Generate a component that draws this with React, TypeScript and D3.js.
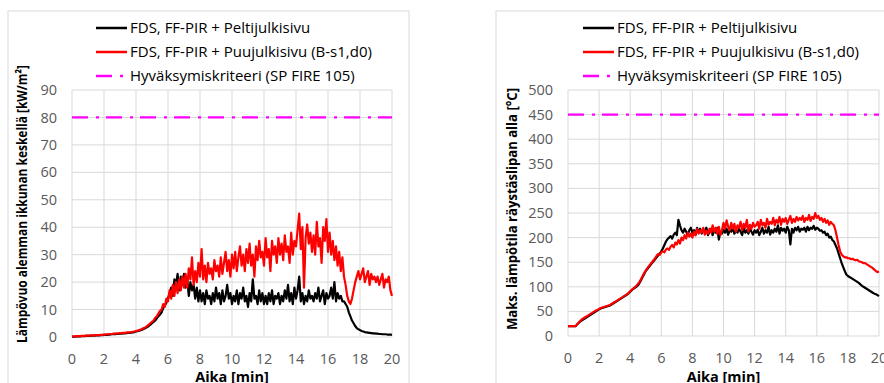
import React from "react";
import * as d3 from "d3";

// Time step of samples [min]
const STEP = 0.1;
const xTicks = [0, 2, 4, 6, 8, 10, 12, 14, 16, 18, 20];
const yTicksFlux = [0, 10, 20, 30, 40, 50, 60, 70, 80, 90];
const yTicksTemp = [0, 50, 100, 150, 200, 250, 300, 350, 400, 450, 500];
const seriesNames = [
  "FDS, FF-PIR + Peltijulkisivu",
  "FDS, FF-PIR + Puujulkisivu (B-s1,d0)",
  "Hyväksymiskriteeri (SP FIRE 105)",
];
const criterionFlux = 80;
const criterionTemp = 450;

// Heat flux [kW/m2], black (Peltijulkisivu)
const fluxBlack = [
  0.1, 0.1, 0.1, 0.2, 0.2, 0.2, 0.3, 0.3, 0.3, 0.4, 0.4,
  0.4, 0.5, 0.5, 0.5, 0.6, 0.6, 0.6, 0.7, 0.7, 0.8,
  0.8, 0.8, 0.9, 0.9, 1.0, 1.0, 1.0, 1.1, 1.1, 1.2,
  1.2, 1.3, 1.3, 1.4, 1.5, 1.5, 1.6, 1.7, 1.8, 2.0,
  2.1, 2.3, 2.5, 2.7, 3.0, 3.3, 3.6, 4.0, 4.5, 5.0,
  5.5, 6.0, 6.8, 7.5, 8.2, 9.0, 10.5, 11.5, 12.5, 14,
  16, 18, 15, 21, 19, 23, 17, 22, 19, 23,
  18, 21, 15, 20, 17, 19, 14, 18, 13, 17,
  13, 16, 12, 17, 14, 15, 12, 16, 13, 18,
  14, 16, 12, 17, 13, 15, 19, 14, 16, 12,
  15, 13, 17, 12, 16, 14, 18, 13, 15, 11,
  16, 13, 21, 14, 15, 12, 17, 13, 16, 12,
  15, 12, 16, 13, 17, 12, 15, 14, 16, 12,
  15, 13, 17, 14, 19, 13, 16, 12, 18, 14,
  17, 22, 13, 16, 12, 15, 13, 17, 14, 15,
  13, 16, 14, 18, 13, 15, 17, 12, 16, 14,
  15, 18, 14, 20, 13, 16, 14, 15, 13, 13,
  12, 11, 9, 7.5, 6, 5, 4, 3.2, 2.8, 2.5,
  2.2, 2.0, 1.8, 1.7, 1.6, 1.5, 1.4, 1.3, 1.3, 1.2,
  1.2, 1.1, 1.1, 1.0, 1.0, 1.0, 0.9, 0.9, 0.9, 0.8,
];

// Heat flux [kW/m2], red (Puujulkisivu)
const fluxRed = [
  0.2, 0.2, 0.2, 0.3, 0.3, 0.3, 0.4, 0.4, 0.4, 0.5, 0.5,
  0.5, 0.6, 0.6, 0.6, 0.7, 0.7, 0.7, 0.8, 0.8, 0.9,
  0.9, 1.0, 1.0, 1.1, 1.1, 1.2, 1.2, 1.3, 1.3, 1.4,
  1.4, 1.5, 1.5, 1.6, 1.7, 1.7, 1.8, 1.9, 2.0, 2.2,
  2.3, 2.5, 2.7, 3.0, 3.3, 3.6, 4.0, 4.5, 5.0, 5.5,
  6.0, 7.0, 7.5, 8.5, 9.5, 10, 12, 11, 14, 13,
  17, 14, 19, 15, 20, 16, 21, 17, 22, 18,
  23, 18, 25, 21, 29, 19, 24, 20, 27, 22,
  32, 21, 26, 20, 27, 23, 25, 21, 28, 24,
  26, 22, 29, 23, 27, 31, 24, 28, 22, 30,
  25, 31, 24, 29, 33, 26, 30, 24, 32, 27,
  34, 26, 30, 22, 33, 28, 35, 29, 31, 26,
  36, 29, 32, 24, 35, 30, 33, 27, 36, 30,
  34, 28, 37, 31, 33, 27, 38, 30, 35, 33,
  39, 45, 32, 40, 18, 36, 41, 34, 38, 31,
  37, 30, 42, 33, 36, 27, 40, 35, 43, 31,
  38, 30, 35, 28, 33, 26, 31, 24, 29, 22,
  19, 15, 13, 12, 14, 17, 20, 22, 24, 21,
  23, 25, 20, 22, 24, 19, 23, 21, 22, 20,
  22, 19, 21, 23, 18, 21, 20, 22, 17, 15,
];

// Max temperature under eaves [°C], black
const tempBlack = [
  20, 20, 20, 20, 20, 20, 24, 27, 30, 32, 34,
  36, 38, 40, 42, 44, 46, 48, 50, 52, 54,
  56, 57, 58, 59, 60, 61, 62, 64, 66, 68,
  70, 72, 74, 76, 78, 80, 82, 84, 87, 90,
  93, 96, 98, 100, 103, 108, 114, 120, 126, 132,
  136, 140, 144, 148, 152, 156, 160, 164, 168, 172,
  178, 185, 192, 197, 200, 203, 198, 206, 210, 205,
  236, 225, 215, 210, 218, 212, 205, 215, 220, 210,
  215, 205, 220, 210, 218, 208, 215, 212, 220, 205,
  212, 218, 205, 215, 210, 220, 196, 212, 208, 216,
  210, 218, 206, 215, 212, 220, 208, 214, 210, 218,
  212, 205, 220, 210, 215, 208, 218, 212, 206, 215,
  210, 216, 205, 212, 220, 208, 215, 210, 222, 206,
  215, 210, 218, 212, 225, 208, 220, 214, 218, 210,
  222, 215, 186, 218, 210, 220, 215, 222, 212, 218,
  216, 220, 212, 222, 215, 220, 218, 224, 216, 220,
  218, 214, 215, 210, 212, 205, 208, 200, 202, 195,
  192, 185, 178, 168, 158, 148, 140, 132, 125, 122,
  120, 118, 116, 114, 112, 110, 108, 105, 102, 100,
  98, 96, 94, 92, 90, 88, 86, 85, 83, 81,
];

// Max temperature under eaves [°C], red
const tempRed = [
  20, 20, 20, 20, 20, 20, 24, 28, 31, 34, 36,
  38, 40, 42, 44, 46, 48, 50, 52, 53, 55,
  57, 58, 59, 60, 61, 62, 63, 65, 67, 69,
  71, 73, 75, 77, 79, 81, 83, 85, 88, 91,
  94, 96, 99, 102, 106, 110, 116, 122, 128, 133,
  138, 142, 146, 150, 154, 158, 163, 167, 165, 170,
  172, 170, 176, 178, 175, 182, 185, 180, 190, 186,
  195, 188, 200, 195, 205, 198, 210, 202, 208, 200,
  212, 205, 218, 208, 215, 210, 220, 206, 214, 208,
  218, 210, 225, 212, 220, 208, 222, 205, 215, 230,
  218, 235, 222, 215, 230, 218, 228, 212, 225, 220,
  232, 215, 228, 220, 236, 212, 226, 218, 230, 222,
  225, 232, 218, 236, 225, 230, 220, 238, 226, 232,
  228, 240, 225, 236, 230, 242, 226, 238, 232, 240,
  228, 236, 244, 230, 238, 232, 242, 235, 240, 236,
  244, 232, 240, 236, 246, 234, 242, 238, 250, 240,
  244, 236, 240, 232, 238, 230, 235, 226, 232, 228,
  225, 215, 200, 185, 172, 165, 162, 160, 160, 158,
  158, 156, 157, 155, 154, 155, 152, 151, 150, 148,
  148, 146, 144, 142, 140, 138, 135, 132, 130, 131,
];

const FONT = "'Open Sans', 'Noto Sans', sans-serif";
const GRID = "#d9d9d9";
const TICK = "#595959";
const MAGENTA = "#ff00ff";
const DASH = "16 8 3 7";

type PanelProps = {
  frameX0: number;
  frameX1: number;
  px0: number;
  px1: number;
  py0: number;
  py1: number;
  yMax: number;
  yTicks: number[];
  black: number[];
  red: number[];
  criterion: number;
  yTitle: React.ReactNode;
  yTitleX: number;
  yTitleY: number;
  yTitleLen: number;
  tickRight: number;
  legendX: number;
};

function Panel(p: PanelProps) {
  const x = d3.scaleLinear().domain([0, 20]).range([p.px0, p.px1]);
  const y = d3.scaleLinear().domain([0, p.yMax]).range([p.py1, p.py0]);
  const line = d3
    .line<number>()
    .x((_, i) => x(i * STEP))
    .y((v) => y(v));
  const legendRows = [28, 52, 76];
  return (
    <g>
      <rect x={p.frameX0} y={11} width={p.frameX1 - p.frameX0} height={400} fill="#fff" stroke={GRID} strokeWidth={1} />
      {p.yTicks.map((t) => (
        <line key={"h" + t} x1={p.px0} x2={p.px1} y1={y(t)} y2={y(t)} stroke={GRID} strokeWidth={1} />
      ))}
      {xTicks.map((t) => (
        <line key={"v" + t} x1={x(t)} x2={x(t)} y1={p.py0} y2={p.py1} stroke={GRID} strokeWidth={1} />
      ))}
      {p.yTicks.map((t) => (
        <text key={"yl" + t} x={p.tickRight} y={y(t)} dy="0.35em" textAnchor="end" fontSize={14.5} fill={TICK} fontFamily={FONT}>
          {t}
        </text>
      ))}
      {xTicks.map((t) => (
        <text key={"xl" + t} x={x(t)} y={p.py1 + 22} dy="0.35em" textAnchor="middle" fontSize={14.5} fill={TICK} fontFamily={FONT}>
          {t}
        </text>
      ))}
      <line x1={p.px0} x2={p.px1} y1={y(p.criterion)} y2={y(p.criterion)} stroke={MAGENTA} strokeWidth={2.2} strokeDasharray={DASH} />
      <path d={line(p.black) || ""} fill="none" stroke="#000" strokeWidth={2.2} strokeLinejoin="round" />
      <path d={line(p.red) || ""} fill="none" stroke="#ff0000" strokeWidth={2.2} strokeLinejoin="round" />
      <text x={(p.px0 + p.px1) / 2} y={377} dy="0.35em" textAnchor="middle" fontSize={14.5} fontWeight="bold" fill="#000" fontFamily={FONT}>
        Aika [min]
      </text>
      <text
        transform={`translate(${p.yTitleX},${p.yTitleY}) rotate(-90)`}
        textAnchor="middle"
        dy="0.35em"
        fontSize={14.5}
        fontWeight="bold"
        fill="#000"
        fontFamily={FONT}
        textLength={p.yTitleLen}
        lengthAdjust="spacingAndGlyphs"
      >
        {p.yTitle}
      </text>
      {seriesNames.map((name, i) => (
        <g key={name}>
          <line
            x1={p.legendX}
            x2={p.legendX + 31}
            y1={legendRows[i]}
            y2={legendRows[i]}
            stroke={i === 0 ? "#000" : i === 1 ? "#ff0000" : MAGENTA}
            strokeWidth={2.5}
            strokeDasharray={i === 2 ? DASH : undefined}
          />
          <text x={p.legendX + 34} y={legendRows[i]} dy="0.35em" fontSize={15} fill="#000" fontFamily={FONT}>
            {name}
          </text>
        </g>
      ))}
    </g>
  );
}

export default function App() {
  return (
    <svg width={884} height={383} style={{ position: "absolute", left: 0, top: 0, background: "#fff" }}>
      <rect x={0} y={0} width={884} height={383} fill="#fff" />
      <Panel
        frameX0={8}
        frameX1={409}
        px0={72}
        px1={392}
        py0={90}
        py1={337}
        yMax={90}
        yTicks={yTicksFlux}
        black={fluxBlack}
        red={fluxRed}
        criterion={criterionFlux}
        yTitle={"Lämpövuo alemman ikkunan keskellä [kW/m²]"}
        yTitleX={22}
        yTitleY={204}
        yTitleLen={278}
        tickRight={57}
        legendX={96}
      />
      <Panel
        frameX0={496}
        frameX1={900}
        px0={568}
        px1={879}
        py0={90}
        py1={336}
        yMax={500}
        yTicks={yTicksTemp}
        black={tempBlack}
        red={tempRed}
        criterion={criterionTemp}
        yTitle={"Maks. lämpötila räystäslipan alla [°C]"}
        yTitleX={512}
        yTitleY={209}
        yTitleLen={242}
        tickRight={553}
        legendX={583}
      />
    </svg>
  );
}
